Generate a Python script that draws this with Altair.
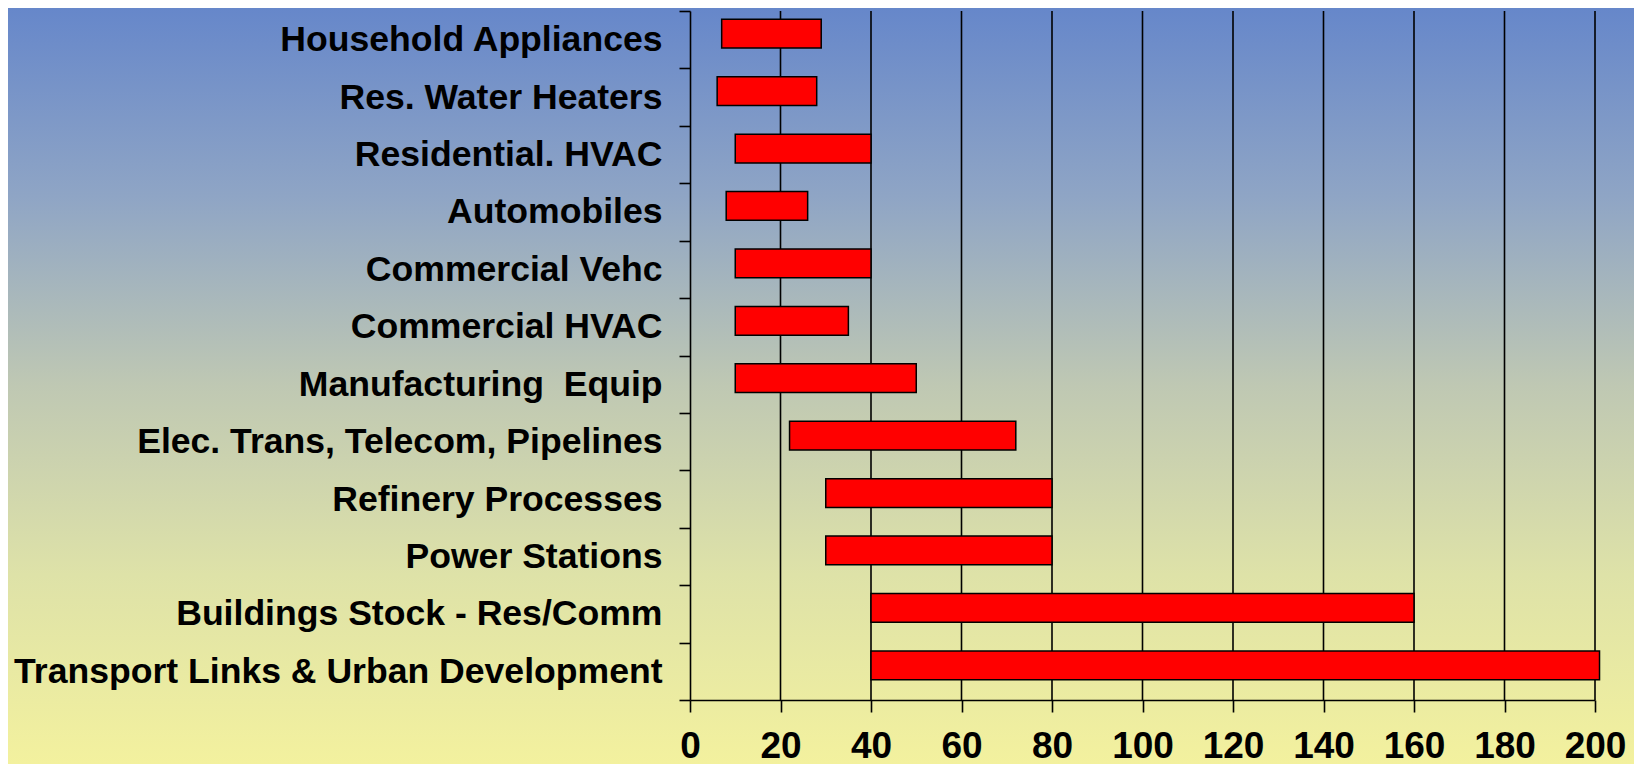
import altair as alt
import pandas as pd

categories = [
    "Household Appliances",
    "Res. Water Heaters",
    "Residential. HVAC",
    "Automobiles",
    "Commercial Vehc",
    "Commercial HVAC",
    "Manufacturing\u00a0 Equip",
    "Elec. Trans, Telecom, Pipelines",
    "Refinery Processes",
    "Power Stations",
    "Buildings Stock - Res/Comm",
    "Transport Links & Urban Development",
]
starts = [7, 6, 10, 8, 10, 10, 10, 22, 30, 30, 40, 40]
ends = [29, 28, 40, 26, 40, 35, 50, 72, 80, 80, 160, 201]
grid_values = [20, 40, 60, 80, 100, 120, 140, 160, 180, 200]
tick_values = [0, 20, 40, 60, 80, 100, 120, 140, 160, 180, 200]

W, H = 905, 689
PAD = {"left": 682, "top": 3, "right": 39, "bottom": 64}

bars_df = pd.DataFrame({"cat": categories, "start": starts, "end": ends})
grid_df = pd.DataFrame({"g": grid_values})
bg_df = pd.DataFrame({"a": [0]})

xscale = alt.Scale(domain=[0, 200], nice=False, zero=False)
yscale = alt.Scale(domain=categories, paddingInner=0, paddingOuter=0)

gradient = alt.LinearGradient(
    gradient="linear",
    stops=[
        alt.GradientStop(color="#6687CA", offset=0),
        alt.GradientStop(color="#8FA5C5", offset=0.25),
        alt.GradientStop(color="#BFC8B3", offset=0.5),
        alt.GradientStop(color="#DEE2A8", offset=0.75),
        alt.GradientStop(color="#F3F19E", offset=1),
    ],
    x1=0, x2=0, y1=0, y2=1,
)

bg = alt.Chart(bg_df).mark_rect(color=gradient).encode(
    x=alt.value(-PAD["left"]),
    x2=alt.value(W + PAD["right"]),
    y=alt.value(-PAD["top"]),
    y2=alt.value(H + PAD["bottom"]),
)

grid = alt.Chart(grid_df).mark_rule(color="black", strokeWidth=1.6).encode(
    x=alt.X("g:Q", scale=xscale),
    y=alt.value(0),
    y2=alt.value(H),
)

bars = alt.Chart(bars_df).mark_bar(
    color="#FF0000", stroke="black", strokeWidth=1.5,
    height=alt.RelativeBandSize(band=0.5),
    yOffset=-6,
).encode(
    x=alt.X(
        "start:Q",
        scale=xscale,
        axis=alt.Axis(
            values=tick_values,
            format="d",
            title=None,
            grid=False,
            labelFont="Liberation Sans",
            labelFontSize=37,
            labelFontWeight="bold",
            labelColor="black",
            labelPadding=16,
            labelFlush=False,
            labelOverlap=False,
            tickSize=12,
            tickColor="black",
            tickWidth=1.6,
            domainColor="black",
            domainWidth=1.6,
            zindex=1,
        ),
    ),
    x2="end:Q",
    y=alt.Y(
        "cat:N",
        scale=yscale,
        sort=categories,
        axis=alt.Axis(
            title=None,
            grid=False,
            labelFont="Liberation Sans",
            labelFontSize=35.6,
            labelFontWeight="bold",
            labelColor="black",
            labelPadding=17,
            labelLimit=1000,
            tickBand="extent",
            tickSize=11,
            tickColor="black",
            tickWidth=1.6,
            domainColor="black",
            domainWidth=1.6,
            zindex=1,
        ),
    ),
)

chart = (
    alt.layer(bg, grid, bars)
    .properties(
        width=W,
        height=H,
        autosize=alt.AutoSizeParams(type="none"),
        padding=PAD,
    )
    .configure_view(strokeWidth=0)
    .configure(background="#F3F19E")
)

chart.save("out.html", embed_options={"renderer": "svg", "actions": False})
